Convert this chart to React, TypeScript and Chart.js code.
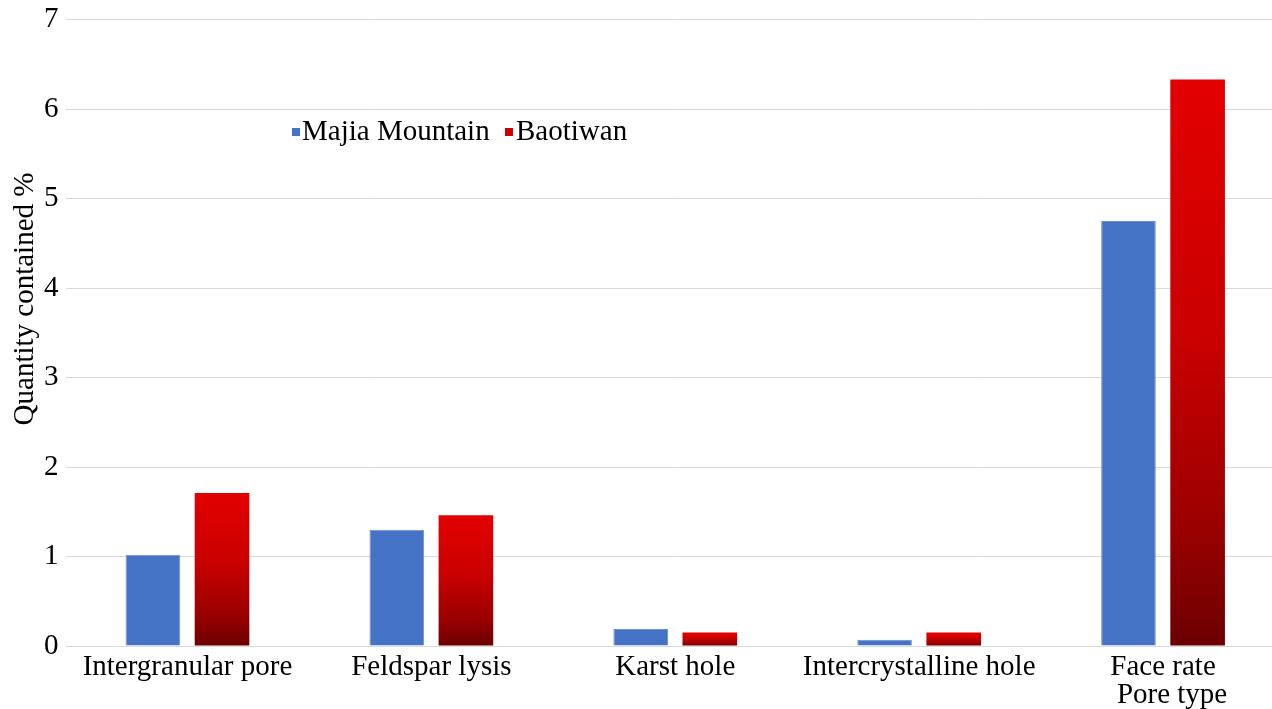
import React, { useEffect, useRef } from "react";
import { Chart, registerables } from "chart.js";

Chart.register(...registerables);

const categories = ["Intergranular pore", "Feldspar lysis", "Karst hole", "Intercrystalline hole", "Face rate"];
const seriesNames = ["Majia Mountain", "Baotiwan"];
const majiaValues = [1.02, 1.3, 0.19, 0.07, 4.75];
const baotiwanValues = [1.71, 1.46, 0.15, 0.15, 6.33];
const yAxisTitle = "Quantity contained %";
const xAxisTitle = "Pore type";

const FONT = "'Liberation Serif', 'Times New Roman', serif";
const FS = 29;
const BLUE = "#4472C4";

function redGradient(ctx: any) {
  const chart = ctx.chart;
  if (!chart.chartArea || ctx.type !== "data") return "#E00000";
  const y = chart.scales.y;
  const top = y.getPixelForValue(ctx.raw);
  const bottom = y.getPixelForValue(0);
  const g = chart.ctx.createLinearGradient(0, top, 0, bottom);
  g.addColorStop(0, "#E30000");
  g.addColorStop(0.45, "#CA0000");
  g.addColorStop(0.8, "#990000");
  g.addColorStop(1, "#6C0000");
  return g;
}

const overlayPlugin = {
  id: "overlay",
  afterDraw(chart: any) {
    const c = chart.ctx;
    c.save();
    c.fillStyle = "#000";
    c.font = `${FS}px ${FONT}`;
    // y axis title
    c.save();
    c.translate(25, 299);
    c.rotate(-Math.PI / 2);
    c.textAlign = "center";
    c.textBaseline = "middle";
    c.fillText(yAxisTitle, 0, 0);
    c.restore();
    // x axis title under last category
    const xs = chart.scales.x;
    const lastX = xs.getPixelForValue(categories.length - 1);
    c.textAlign = "center";
    c.textBaseline = "middle";
    c.fillText(xAxisTitle, lastX + 9, 695);
    // legend
    c.textAlign = "left";
    c.textBaseline = "middle";
    const ly = 132;
    c.fillStyle = BLUE;
    c.fillRect(292, ly - 4, 8, 8);
    c.fillStyle = "#000";
    c.fillText(seriesNames[0], 302, ly);
    c.fillStyle = "#D00000";
    c.fillRect(505, ly - 4, 8, 8);
    c.fillStyle = "#000";
    c.fillText(seriesNames[1], 516, ly);
    c.restore();
  },
};

export default function App() {
  const ref = useRef<HTMLCanvasElement | null>(null);
  useEffect(() => {
    document.body.style.margin = "0";
    const chart = new Chart(ref.current as HTMLCanvasElement, {
      type: "bar",
      data: {
        labels: categories,
        datasets: [
          {
            label: seriesNames[0],
            data: majiaValues,
            backgroundColor: BLUE,
            borderColor: "#6F92D2",
            borderWidth: 1,
            categoryPercentage: 0.567,
            barPercentage: 0.79,
          },
          {
            label: seriesNames[1],
            data: baotiwanValues,
            backgroundColor: redGradient as any,
            borderWidth: 0,
            categoryPercentage: 0.567,
            barPercentage: 0.79,
          },
        ],
      },
      options: {
        responsive: false,
        animation: false,
        layout: { padding: { top: 19.6, right: 6, left: 0, bottom: 0 } },
        plugins: { legend: { display: false }, tooltip: { enabled: false }, title: { display: false } },
        scales: {
          x: {
            grid: { display: false },
            border: { display: false },
            ticks: {
              color: "#000",
              font: { family: FONT, size: FS },
              maxRotation: 0,
              autoSkip: false,
              padding: -4,
            },
            afterFit: (s: any) => {
              s.height = 63;
              s.paddingLeft = 0;
              s.paddingRight = 0;
            },
          },
          y: {
            min: 0,
            max: 7,
            ticks: {
              stepSize: 1,
              color: "#000",
              font: { family: FONT, size: FS },
              padding: 7,
            },
            grid: { color: "#D9D9D9", lineWidth: 1, drawTicks: false },
            border: { display: false },
            afterFit: (s: any) => {
              s.width = 65.5;
              s.paddingTop = 0;
              s.paddingBottom = 0;
            },
          },
        },
      },
      plugins: [overlayPlugin],
    });
    return () => chart.destroy();
  }, []);
  return (
    <div style={{ position: "fixed", left: 0, top: 0, width: 1272, height: 709, overflow: "hidden", background: "#fff" }}>
      <canvas ref={ref} width={1291} height={709} style={{ width: 1291, height: 709, display: "block" }} />
    </div>
  );
}
